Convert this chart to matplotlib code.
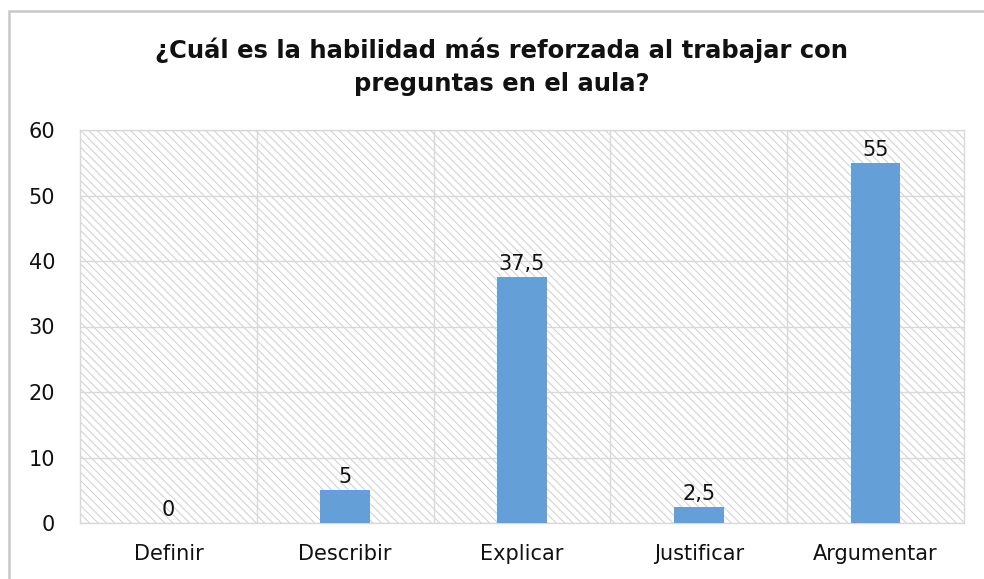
import matplotlib
matplotlib.use("Agg")
import matplotlib.pyplot as plt
from matplotlib.patches import Rectangle

# data
categories = ["Definir", "Describir", "Explicar", "Justificar", "Argumentar"]
values = [0, 5, 37.5, 2.5, 55]
value_labels = ["0", "5", "37,5", "2,5", "55"]
y_ticks = [0, 10, 20, 30, 40, 50, 60]
title = "¿Cuál es la habilidad más reforzada al trabajar con\npreguntas en el aula?"

bar_color = "#659FD8"
grid_color = "#d9d9d9"

plt.rcParams['font.family'] = ['DejaVu Sans']
plt.rcParams['hatch.linewidth'] = 0.7
plt.rcParams['hatch.color'] = "#cfcfcf"

fig = plt.figure(figsize=(9.84, 5.79), dpi=100)
ax = fig.add_axes([80 / 984, 1 - 523 / 579, (964 - 80) / 984, (523 - 130) / 579])

# hatched plot-area background
ax.add_patch(Rectangle((0, 0), 1, 1, transform=ax.transAxes, facecolor="white",
                       edgecolor="#cfcfcf", hatch="\\\\\\\\", linewidth=0, zorder=0))

x = list(range(len(categories)))
ax.bar(x, values, width=0.28, color=bar_color, zorder=3)

for xi, v, lab in zip(x, values, value_labels):
    ax.annotate(lab, (xi, v), xytext=(0, 5), textcoords="offset points",
                ha="center", va="baseline", fontsize=15, color="#111111", zorder=4)

ax.set_xlim(-0.5, len(categories) - 0.5)
ax.set_ylim(0, 60)
ax.set_yticks(y_ticks)
ax.set_xticks(x)
ax.set_xticklabels(categories)
ax.tick_params(axis="both", length=0, labelsize=15, colors="#111111")
ax.tick_params(axis="x", pad=15)
ax.tick_params(axis="y", pad=18)

# grid: horizontal at ticks, vertical at category boundaries
for yv in y_ticks:
    ax.axhline(yv, color=grid_color, linewidth=1, zorder=1)
for b in [i + 0.5 for i in x[:-1]]:
    ax.axvline(b, color=grid_color, linewidth=1, zorder=1)

for spine in ax.spines.values():
    spine.set_color(grid_color)
    spine.set_linewidth(1)
    spine.set_zorder(1)

fig.text(0.510, 1 - 67 / 579, title, ha="center", va="center", fontsize=17.5,
         fontweight="bold", color="#111111", linespacing=1.45)

# outer chart border (cut off at right/bottom in the reference)
fig.patches.append(Rectangle((9 / 984, -0.1), 1.2, 1.1 - 11 / 579,
                             transform=fig.transFigure, fill=False,
                             edgecolor="#c8c8c8", linewidth=1.8))

fig.savefig("out.png", dpi=100)
